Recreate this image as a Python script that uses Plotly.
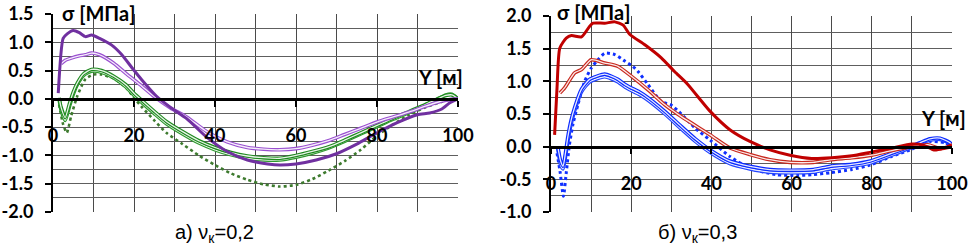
import plotly.graph_objects as go

# ---------------- data: panel a) nu=0.2 ----------------
XA_PT = [1.3, 2.5, 3.5, 5, 6.5, 8, 9.5, 11.5, 14.5, 17, 19.5, 22, 25.5, 29, 33, 38, 43, 48, 53, 56, 60, 65, 70, 75, 80, 85, 90, 93, 96, 98, 100]
YA_PT = [0.1, 1.07, 1.15, 1.21, 1.17, 1.1, 1.13, 1.07, 0.95, 0.78, 0.55, 0.33, 0.05, -0.15, -0.35, -0.68, -0.93, -1.08, -1.15, -1.17, -1.15, -1.08, -0.97, -0.8, -0.6, -0.42, -0.28, -0.25, -0.18, -0.07, 0.0]

XA_PD = [2, 3, 4.5, 6.5, 8, 9.5, 11.5, 15, 18, 21.5, 25, 29, 33, 38, 43, 48, 52, 56, 60, 64, 68, 72, 76, 80, 84, 88, 92, 95, 98, 100]
YA_PD = [0.62, 0.68, 0.72, 0.76, 0.78, 0.81, 0.78, 0.63, 0.45, 0.25, 0.04, -0.16, -0.32, -0.58, -0.76, -0.86, -0.89, -0.9, -0.88, -0.82, -0.74, -0.63, -0.52, -0.41, -0.32, -0.23, -0.13, -0.06, -0.01, 0.0]

XA_G = [1.5, 2, 3, 4, 5, 6, 7.5, 9.5, 12, 15, 18, 20, 22, 25, 28, 32, 36, 40, 44, 48, 52, 56, 60, 64, 68, 72, 76, 80, 84, 88, 92, 95, 97, 98.5, 100]
YA_G1 = [0.02, -0.15, -0.33, -0.1, 0.12, 0.28, 0.44, 0.52, 0.5, 0.4, 0.25, 0.1, -0.03, -0.22, -0.4, -0.58, -0.74, -0.86, -0.95, -1.01, -1.04, -1.05, -1.0, -0.93, -0.85, -0.73, -0.6, -0.47, -0.34, -0.22, -0.1, 0.0, 0.06, 0.07, 0.0]
YA_G2 = [0.0, -0.2, -0.38, -0.15, 0.08, 0.25, 0.41, 0.49, 0.47, 0.37, 0.21, 0.06, -0.07, -0.26, -0.44, -0.62, -0.78, -0.9, -0.99, -1.05, -1.08, -1.08, -1.03, -0.96, -0.87, -0.75, -0.62, -0.49, -0.36, -0.24, -0.11, 0.0, 0.07, 0.08, 0.0]

XA_GD = [1.5, 2.5, 3.4, 4.5, 6, 8, 10, 12, 15, 18, 20, 22, 25, 28, 32, 36, 40, 44, 48, 52, 56, 60, 64, 68, 72, 76, 80, 84, 88, 92, 96, 99]
YA_GD = [-0.1, -0.45, -0.6, -0.3, 0.05, 0.35, 0.43, 0.43, 0.36, 0.2, 0.02, -0.15, -0.38, -0.6, -0.8, -1.0, -1.17, -1.32, -1.43, -1.51, -1.55, -1.52, -1.42, -1.27, -1.1, -0.9, -0.65, -0.45, -0.28, -0.15, -0.05, 0.0]

# ---------------- data: panel б) nu=0.3 ----------------
XB_RT = [0.9, 1.5, 2.2, 3.8, 5.1, 7.6, 9.6, 10.5, 13.4, 15.9, 18, 19.6, 23.4, 27.5, 30.8, 34, 39.7, 44.6, 49.6, 54.6, 59.6, 65, 70, 75, 80, 85, 90, 93, 95.5, 98, 100]
YB_RT = [0.18, 0.9, 1.51, 1.66, 1.7, 1.68, 1.84, 1.89, 1.89, 1.91, 1.86, 1.72, 1.56, 1.36, 1.15, 0.96, 0.54, 0.26, 0.08, -0.05, -0.13, -0.18, -0.17, -0.14, -0.08, -0.02, 0.04, 0.02, -0.05, -0.02, 0.03]

XB_RD = [2.2, 3.4, 5.9, 7.6, 10, 13.4, 16.7, 20, 24.2, 28.4, 32.5, 39.7, 44.6, 49.6, 54.6, 59.6, 65.4, 69.6, 75, 80, 85, 90, 94, 97, 100]
YB_RD = [0.82, 0.9, 1.13, 1.18, 1.33, 1.28, 1.23, 1.08, 0.87, 0.64, 0.46, 0.18, -0.02, -0.12, -0.2, -0.24, -0.24, -0.2, -0.17, -0.13, -0.06, 0.0, 0.03, -0.03, 0.0]

XB_B = [1.7, 2.4, 3, 3.6, 4.2, 5, 5.9, 7.6, 9.6, 11.5, 13.4, 15, 16.7, 18.5, 20, 22, 24.2, 28.4, 32.5, 36, 39.7, 44.6, 49.6, 54.6, 59.6, 65.4, 69.6, 75, 79.6, 85, 89.5, 92, 94.5, 97, 99.5, 100]
YB_B1 = [0.0, -0.22, -0.3, -0.1, 0.15, 0.4, 0.6, 0.88, 1.03, 1.08, 1.11, 1.08, 1.03, 0.95, 0.9, 0.84, 0.75, 0.54, 0.31, 0.12, -0.05, -0.22, -0.3, -0.35, -0.36, -0.35, -0.3, -0.27, -0.22, -0.1, 0.0, 0.06, 0.12, 0.13, 0.06, 0.02]
YB_B2 = [-0.03, -0.28, -0.34, -0.16, 0.08, 0.34, 0.55, 0.84, 0.99, 1.04, 1.07, 1.04, 0.99, 0.91, 0.86, 0.8, 0.71, 0.5, 0.27, 0.08, -0.09, -0.26, -0.34, -0.39, -0.4, -0.39, -0.34, -0.3, -0.25, -0.13, -0.02, 0.05, 0.1, 0.11, 0.05, 0.02]

XB_BD = [1.5, 2.3, 3.1, 3.8, 4.6, 5.5, 6.7, 8.4, 10, 11.7, 13.4, 15.9, 18.4, 20.4, 21.7, 24.2, 27.5, 29.9, 32.5, 36, 39.7, 44.6, 49.6, 56.3, 61.3, 65, 69.6, 75, 79.6, 85, 89.5, 94.5, 98.2, 100]
YB_BD = [-0.1, -0.4, -0.76, -0.4, 0.03, 0.35, 0.64, 1.0, 1.2, 1.33, 1.43, 1.41, 1.31, 1.23, 1.15, 0.95, 0.69, 0.64, 0.5, 0.28, 0.1, -0.15, -0.33, -0.43, -0.44, -0.43, -0.4, -0.35, -0.28, -0.15, -0.05, 0.08, 0.06, 0.0]

# tick labels
X_TICKS = [0, 20, 40, 60, 80, 100]
X_TICKTEXT = ["0", "20", "40", "60", "80", "100"]
YA_TICKS = [1.5, 1.0, 0.5, 0.0, -0.5, -1.0, -1.5, -2.0]
YA_TICKTEXT = ["1.5", "1.0", "0.5", "0.0", "-0.5", "-1.0", "-1.5", "-2.0"]
YB_TICKS = [2.0, 1.5, 1.0, 0.5, 0.0, -0.5, -1.0]
YB_TICKTEXT = ["2.0", "1.5", "1.0", "0.5", "0.0", "-0.5", "-1.0"]

Y_LABEL = "σ [МПа]"
X_LABEL = "Y [м]"
CAP_A = "а) ν<sub>к</sub>=0,2"
CAP_B = "б) ν<sub>к</sub>=0,3"

W, H = 970, 246
fig = go.Figure()

def line(x, y, color, width, dash="solid", xa="x", ya="y"):
    fig.add_trace(go.Scatter(x=x, y=y, mode="lines", xaxis=xa, yaxis=ya,
                             line=dict(color=color, width=width, dash=dash, shape="spline", smoothing=0.6),
                             showlegend=False, hoverinfo="skip"))

def dbl(x, y, color, xa="x", ya="y", w=3.6, inner=1.3):
    line(x, y, color, w, xa=xa, ya=ya)
    line(x, y, "rgba(255,255,255,0.9)", inner, xa=xa, ya=ya)

# panel a
line(XA_GD, YA_GD, "#3d7a2e", 2.6, "dot")
dbl(XA_G, YA_G2, "#2f9a2f")
dbl(XA_G, YA_G1, "#1f8a1f")
dbl(XA_PD, YA_PD, "#9a50d0")
line(XA_PT, YA_PT, "#7030A0", 3)

# panel b
line(XB_BD, YB_BD, "#1030ff", 3, "dot", "x2", "y2")
dbl(XB_B, YB_B2, "#2244ff", "x2", "y2")
dbl(XB_B, YB_B1, "#0a2aff", "x2", "y2")
dbl(XB_RD, YB_RD, "#c8281e", "x2", "y2")
line(XB_RT, YB_RT, "#C00000", 3, xa="x2", ya="y2")

TICKFONT = dict(family="Lato", size=18, color="black", weight="bold")

def yax(dom, rng, tv, tt):
    return dict(domain=dom, range=rng, tickvals=tv, ticktext=tt, tickfont=TICKFONT, automargin=False,
                showline=True, linecolor="black", linewidth=2, ticks="outside", ticklen=6,
                tickwidth=2, tickcolor="black", showgrid=True, gridcolor="#5e5e5e", gridwidth=1,
                minor=dict(dtick=0.25, tick0=0, showgrid=True, gridcolor="#5e5e5e", gridwidth=1, ticks=""),
                zeroline=False, ticklabelstandoff=8, layer="above traces")

def xax(dom, pos, standoff):
    return dict(domain=dom, range=[0, 100], tickvals=X_TICKS, ticktext=X_TICKTEXT, tickfont=TICKFONT,
                anchor="free", position=pos, automargin=False,
                showline=True, linecolor="black", linewidth=2.5, ticks="outside", ticklen=6,
                tickwidth=2, tickcolor="black", showgrid=True, gridcolor="#4a4a4a", gridwidth=1,
                minor=dict(dtick=10, tick0=0, showgrid=True, gridcolor="#4a4a4a", gridwidth=1, ticks=""),
                zeroline=False, ticklabelstandoff=standoff, layer="above traces")

ya_dom = [1 - 212 / H, 1 - 14 / H]
yb_dom = [1 - 212 / H, 1 - 16 / H]
xa_dom = [53 / W, 458 / W]
xb_dom = [551 / W, 952 / W]
pos_a = ya_dom[0] + (2 / 3.5) * (ya_dom[1] - ya_dom[0])
pos_b = yb_dom[0] + (1 / 3) * (yb_dom[1] - yb_dom[0])

fig.update_layout(
    width=W, height=H, margin=dict(l=0, r=0, t=0, b=0, autoexpand=False),
    paper_bgcolor="white", plot_bgcolor="white", showlegend=False,
    xaxis=xax(xa_dom, pos_a, 14),
    yaxis=yax(ya_dom, [-2, 1.5], YA_TICKS, YA_TICKTEXT) | dict(anchor="x"),
    xaxis2=xax(xb_dom, pos_b, 14),
    yaxis2=yax(yb_dom, [-1, 2], YB_TICKS, YB_TICKTEXT) | dict(anchor="x2"),
)

# white boxes behind the axis titles (hide gridlines only, drawn under traces)
for xr, yr, x0, x1, y0, y1 in [("x", "y", 1.5, 20, 1.36, 1.6), ("x", "y", 88.5, 101, 0.19, 0.59),
                                ("x2", "y2", 0.8, 19.5, 1.95, 2.1), ("x2", "y2", 91, 101, 0.26, 0.61)]:
    fig.add_shape(type="rect", xref=xr, yref=yr, x0=x0, x1=x1, y0=y0, y1=y1,
                  fillcolor="white", line=dict(width=0), layer="below")

LABFONT = dict(family="Lato", size=20, color="black", weight="bold")
CAPFONT = dict(family="Liberation Sans", size=20, color="black")
ann = [
    dict(text=Y_LABEL, x=60 / W, y=1 - 13 / H, xanchor="left", yanchor="middle", font=LABFONT),
    dict(text=Y_LABEL, x=555 / W, y=1 - 12 / H, xanchor="left", yanchor="middle", font=LABFONT),
    dict(text=X_LABEL, x=440 / W, y=1 - 77 / H, xanchor="center", yanchor="middle", font=LABFONT),
    dict(text=X_LABEL, x=943 / W, y=1 - 118 / H, xanchor="center", yanchor="middle", font=LABFONT),
    dict(text=CAP_A, x=214 / W, y=1 - 233 / H, xanchor="center", yanchor="middle", font=CAPFONT),
    dict(text=CAP_B, x=697 / W, y=1 - 233 / H, xanchor="center", yanchor="middle", font=CAPFONT),
]
for a in ann:
    fig.add_annotation(xref="paper", yref="paper", showarrow=False, **a)

fig.write_html("out.html", config={"displayModeBar": False},
               post_script="document.body.style.margin='0';")
